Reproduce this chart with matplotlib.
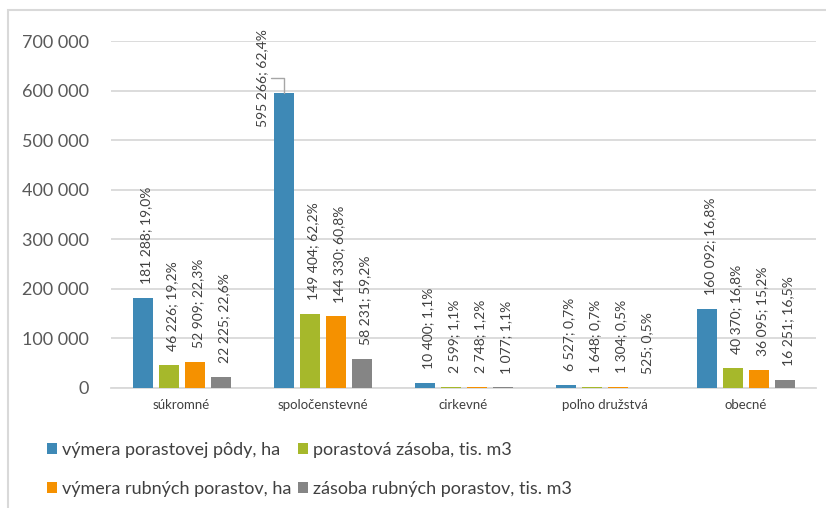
"""
Forest ownership chart - area and growing stock by owner category.
"""

import matplotlib.pyplot as plt
import numpy as np
from matplotlib.patches import Rectangle
from matplotlib.ticker import FuncFormatter, MultipleLocator


# Data
categories = ["súkromné", "spoločenstevné", "cirkevné", "poľno družstvá", "obecné"]
series_names = [
    "výmera porastovej pôdy, ha",
    "porastová zásoba, tis. m3",
    "výmera rubných porastov, ha",
    "zásoba rubných porastov, tis. m3",
]
area = [181288, 595266, 10400, 6527, 160092]
stock = [46226, 149404, 2599, 1648, 40370]
cut_area = [52909, 144330, 2748, 1304, 36095]
cut_stock = [22225, 58231, 1077, 525, 16251]
area_pct = ["19,0", "62,4", "1,1", "0,7", "16,8"]
stock_pct = ["19,2", "62,2", "1,1", "0,7", "16,8"]
cut_area_pct = ["22,3", "60,8", "1,2", "0,5", "15,2"]
cut_stock_pct = ["22,6", "59,2", "1,1", "0,5", "16,5"]

COLORS = ["#3E89B6", "#A6B82B", "#F59100", "#858585"]
GRID = "#D9D9D9"
TEXT = "#404040"

plt.rcParams["font.family"] = ["Lato", "DejaVu Sans"]


def fmt_thousands(v):
    return f"{int(round(v)):,}".replace(",", " ")


fig = plt.figure(figsize=(8.26, 5.08), dpi=100)
ax = fig.add_axes([111 / 826, 1 - 388 / 508, 705 / 826, 347 / 508])

# chart border
fig.patches.append(Rectangle((8 / 826, -0.05), 1.2, 1 - 10 / 508 + 0.05,
                             transform=fig.transFigure, fill=False,
                             edgecolor=GRID, linewidth=1.5))

x = np.arange(len(categories))
step, width = 0.184, 0.142
all_vals = [area, stock, cut_area, cut_stock]
all_pct = [area_pct, stock_pct, cut_area_pct, cut_stock_pct]

handles = []
for i, (vals, pcts) in enumerate(zip(all_vals, all_pct)):
    xs = x + (i - 1.5) * step + 0.003
    bars = ax.bar(xs, vals, width, color=COLORS[i], label=series_names[i],
                  zorder=3)
    handles.append(bars)
    for xi, v, p in zip(xs, vals, pcts):
        label = f"{fmt_thousands(v)}; {p}%"
        if v == max(area):
            # Excel moved this one to the side with a leader line
            ax.annotate(label, xy=(xi, v), xytext=(-16, 11),
                        textcoords="offset points", rotation=90,
                        ha="center", va="center", fontsize=10, color=TEXT,
                        annotation_clip=False,
                        arrowprops=dict(arrowstyle="-", color="#A6A6A6",
                                        lw=1.0, shrinkA=0, shrinkB=0,
                                        connectionstyle="angle,angleA=0,angleB=90,rad=0"))
        else:
            ax.annotate(label, xy=(xi, v), xytext=(2.5, 10),
                        textcoords="offset points", rotation=90,
                        ha="center", va="bottom", fontsize=10, color=TEXT,
                        annotation_clip=False)

ax.set_xlim(-0.5, len(categories) - 0.5)
ax.set_ylim(0, 700000)
ax.yaxis.set_major_locator(MultipleLocator(100000))
ax.yaxis.set_major_formatter(FuncFormatter(lambda v, _: fmt_thousands(v)))
ax.grid(axis="y", color=GRID, linewidth=1.3, zorder=0)
ax.set_axisbelow(True)

for side in ["top", "right", "left"]:
    ax.spines[side].set_visible(False)
ax.spines["bottom"].set_color(GRID)
ax.spines["bottom"].set_linewidth(1.3)

ax.set_xticks(x)
ax.set_xticklabels(categories, fontsize=9.5, color=TEXT)
ax.tick_params(axis="x", length=0, pad=8)
ax.tick_params(axis="y", length=0, pad=16, labelsize=13, labelcolor="#595959")

# legend: row 1 blue/green, row 2 orange/gray
order = [0, 2, 1, 3]
fig.legend([handles[k] for k in order], [series_names[k] for k in order],
           ncol=2, loc="upper left", bbox_to_anchor=(31 / 826, 1 - 426 / 508),
           frameon=False, fontsize=13, handlelength=0.55, handleheight=0.55,
           handletextpad=0.25, columnspacing=0.4, labelspacing=1.25,
           labelcolor=TEXT)

fig.savefig("out.png", dpi=100)
